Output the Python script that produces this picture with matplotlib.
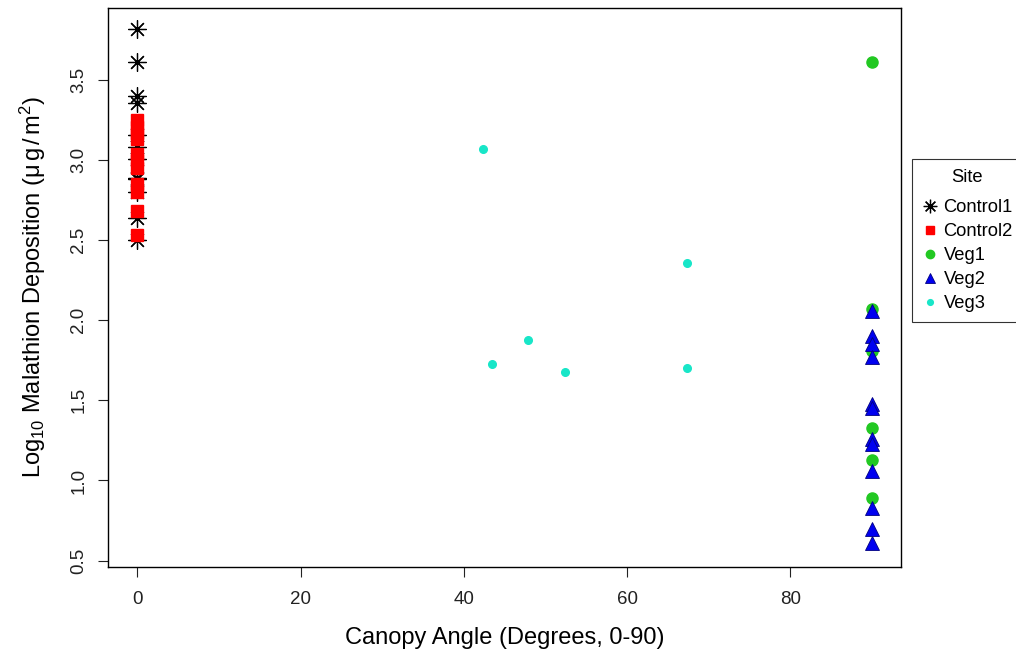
import matplotlib
matplotlib.use("Agg")
import matplotlib.pyplot as plt

plt.rcParams['font.family'] = ['Liberation Sans', 'DejaVu Sans']
plt.rcParams['mathtext.fontset'] = 'custom'
plt.rcParams['mathtext.rm'] = 'Liberation Sans'
plt.rcParams['mathtext.it'] = 'Liberation Sans:italic'

# Data (canopy angle, log10 deposition)
control1_x = [0] * 12
control1_y = [3.82, 3.61, 3.40, 3.36, 3.16, 3.08, 3.01, 2.89, 2.88, 2.80, 2.64, 2.50]
control2_x = [0] * 11
control2_y = [3.25, 3.21, 3.17, 3.13, 3.04, 3.00, 2.95, 2.85, 2.80, 2.68, 2.53]
veg1_x = [90] * 6
veg1_y = [3.61, 2.07, 1.81, 1.33, 1.13, 0.89]
veg2_y = [2.06, 1.90, 1.85, 1.77, 1.48, 1.45, 1.26, 1.23, 1.06, 0.83, 0.70, 0.61]
veg2_x = [90] * 12
veg3_x = [42.4, 43.4, 47.9, 52.4, 67.3, 67.3]
veg3_y = [3.07, 1.73, 1.88, 1.68, 2.36, 1.70]

labels = ["Control1", "Control2", "Veg1", "Veg2", "Veg3"]
xticks = [0, 20, 40, 60, 80]
yticks = [0.5, 1.0, 1.5, 2.0, 2.5, 3.0, 3.5]

fig = plt.figure(figsize=(10.16, 6.56), dpi=100)
ax = fig.add_axes([0.1063, 0.1357, 0.7807, 0.8521])

h1, = ax.plot(control1_x, control1_y, linestyle='none', marker=(8, 2, 0), ms=13,
              mec='black', mew=0.9, color='black', label=labels[0])
h2, = ax.plot(control2_x, control2_y, linestyle='none', marker='s', ms=8.5,
              color='#FF0000', mec='#FF0000', label=labels[1])
h3, = ax.plot(veg1_x, veg1_y, linestyle='none', marker='o', ms=8,
              color='#22C822', mec='#22C822', label=labels[2])
h4, = ax.plot(veg2_x, veg2_y, linestyle='none', marker='^', ms=10.5,
              color='#0000F0', mec='#000080', mew=0.6, label=labels[3])
h5, = ax.plot(veg3_x, veg3_y, linestyle='none', marker='o', ms=5.5,
              color='#18E6C8', mec='#18E6C8', label=labels[4])

ax.set_xlim(-3.6, 93.6)
ax.set_ylim(0.46, 3.95)
ax.set_xticks(xticks)
ax.set_xticklabels([str(t) for t in xticks])
ax.set_yticks(yticks)
ax.set_yticklabels([f"{t:.1f}" for t in yticks], rotation=90, va='center')
ax.tick_params(direction='out', length=7, width=0.8, labelsize=13.5, colors='#222222', pad=10)
ax.tick_params(axis='y', pad=8)
for s in ax.spines.values():
    s.set_linewidth(1.0)
    s.set_color('black')

ax.set_xlabel("Canopy Angle (Degrees, 0-90)", fontsize=17, labelpad=14)
ax.set_ylabel(r"Log$_{10}$ Malathion Deposition ($\mathregular{\mu\,g\,/\,m^2}$)", fontsize=17, labelpad=16)

leg = fig.legend(handles=[h1, h2, h3, h4, h5], labels=labels, title="Site",
                 loc='upper left', bbox_to_anchor=(0.898, 0.757), fontsize=13.2,
                 title_fontsize=13.2, frameon=True, fancybox=False, edgecolor='black',
                 handletextpad=0.3, handlelength=0.9, borderpad=0.5, labelspacing=0.38,
                 markerscale=0.75, borderaxespad=0)
leg.get_frame().set_linewidth(0.8)
# extra gap between legend title and entries
leg._legend_box.sep = 13.2 * 0.38 + 5

fig.savefig("out.png", dpi=100)
